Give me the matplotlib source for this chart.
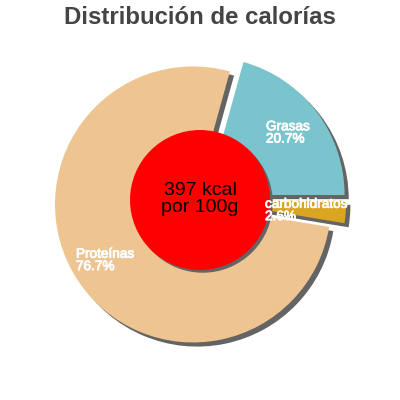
import matplotlib
matplotlib.use("Agg")
import matplotlib.pyplot as plt
import matplotlib.patheffects as pe
from matplotlib.patches import Circle

plt.rcParams['font.family'] = ['Liberation Sans', 'DejaVu Sans']

title = "Distribución de calorías"
labels = ["Grasas", "carbohidratos", "Proteínas"]
percents = [20.7, 2.6, 76.7]
colors = ["#7AC5CD", "#DAA520", "#EEC591"]
center_text = "397 kcal\npor 100g"

# layout
R_PX = 138.0
W = H = 400
explode = [0.06, 0.06, 0.06]
start = 74.5
shadow_off = (0.03, -0.03)
label_pos = [(0.478, 0.49), (0.471, -0.072), (-0.899, -0.434)]

fig = plt.figure(figsize=(4, 4), dpi=100)
ax = fig.add_axes([0, 0, 1, 1])
lim = (W / 2) / R_PX
ax.set_xlim(-lim, lim)
ax.set_ylim(-lim, lim)
ax.set_aspect('equal')
ax.axis('off')

# shadow
ax.pie(percents, explode=explode, startangle=start, counterclock=False,
       colors=["#646464"] * 3, center=shadow_off, radius=1.0,
       wedgeprops=dict(linewidth=0))
# real slices
ax.pie(percents, explode=explode, startangle=start, counterclock=False,
       colors=colors, center=(0, 0), radius=1.0,
       wedgeprops=dict(linewidth=0))
ax.set_xlim(-lim, lim)
ax.set_ylim(-lim, lim)

# center circle with shadow
ax.add_patch(Circle((0.02, -0.02), 0.507, color="#646464", zorder=5, lw=0))
ax.add_patch(Circle((0, 0), 0.507, color="#FF0000", zorder=6, lw=0))
ax.text(0, 0.005, center_text, ha='center', va='center', fontsize=14,
        color='black', zorder=7, linespacing=1.0)

for lab, p, (x, y) in zip(labels, percents, label_pos):
    ax.text(x, y, f"{lab}\n{p}%", ha='left', va='center', fontsize=9.8,
            color='white', zorder=8, linespacing=0.85,
            path_effects=[pe.Stroke(linewidth=0.6, foreground='white'),
                          pe.Normal()])

fig.text(0.5, 1 - 18 / H, title, ha='center', va='center', fontsize=17.3,
         fontweight='bold', color='#444444')

fig.savefig("out.png", dpi=100)
